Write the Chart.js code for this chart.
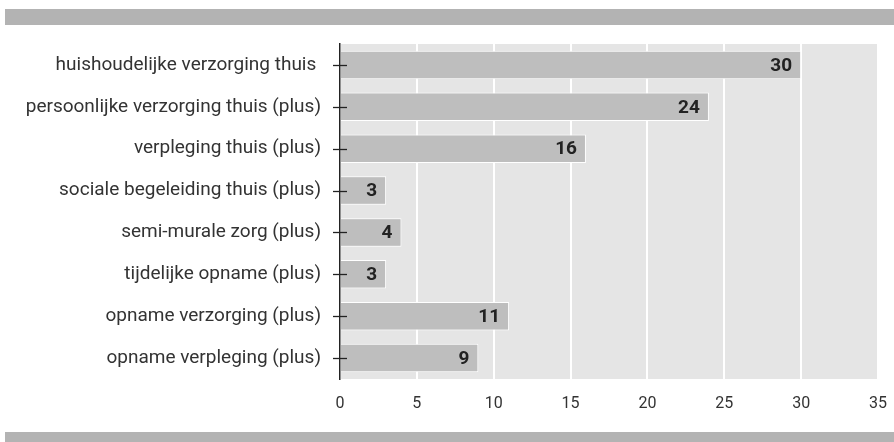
<!DOCTYPE html>
<html>
<head>
<meta charset="utf-8">
<script src="https://cdn.jsdelivr.net/npm/chart.js@4"></script>
<style>
  html, body { margin: 0; padding: 0; background: #fff; }
  .wrap { position: relative; width: 894px; height: 442px; }
  .band { position: absolute; left: 5px; right: 0; background: #b3b3b3; }
  .band.top { top: 9px; height: 16px; }
  .band.bottom { top: 432px; height: 10px; }
  canvas { position: absolute; left: 0; top: 0; }
</style>
</head>
<body>
<div class="wrap">
  <div class="band top"></div>
  <div class="band bottom"></div>
  <canvas id="zorgChart" width="894" height="442"></canvas>
</div>
<script>
const categories = [
  'huishoudelijke verzorging thuis ',
  'persoonlijke verzorging thuis (plus)',
  'verpleging thuis (plus)',
  'sociale begeleiding thuis (plus)',
  'semi-murale zorg (plus)',
  'tijdelijke opname (plus)',
  'opname verzorging (plus)',
  'opname verpleging (plus)'
];
const values = [30, 24, 16, 3, 4, 3, 11, 9];
const xTicks = [0, 5, 10, 15, 20, 25, 30, 35];

// grey plot background behind the bars
const plotBackground = {
  id: 'plotBackground',
  beforeDraw(chart) {
    const { ctx, chartArea: a } = chart;
    ctx.save();
    ctx.fillStyle = '#e5e5e5';
    ctx.fillRect(a.left, a.top, a.right - a.left, a.bottom - a.top);
    ctx.restore();
  }
};

// small tick marks crossing the category axis, plus value labels in the bars
const barExtras = {
  id: 'barExtras',
  afterDraw(chart) {
    const { ctx } = chart;
    const y = chart.scales.y;
    const x0 = chart.scales.x.getPixelForValue(0);
    ctx.save();
    ctx.strokeStyle = '#222';
    ctx.lineWidth = 1.3;
    categories.forEach((c, i) => {
      const py = Math.round(y.getPixelForValue(i)) + 0.5;
      ctx.beginPath();
      ctx.moveTo(x0 - 7, py);
      ctx.lineTo(x0 + 7, py);
      ctx.stroke();
    });
    ctx.fillStyle = '#222';
    ctx.font = 'bold 19px Roboto';
    ctx.textAlign = 'right';
    ctx.textBaseline = 'middle';
    chart.getDatasetMeta(0).data.forEach((bar, i) => {
      ctx.fillText(String(values[i]), bar.x - 9, bar.y + 1);
    });
    ctx.restore();
  }
};

new Chart(document.getElementById('zorgChart'), {
  type: 'bar',
  plugins: [plotBackground, barExtras],
  data: {
    labels: categories,
    datasets: [{
      data: values,
      backgroundColor: '#bebebe',
      borderColor: '#ffffff',
      borderWidth: 1,
      borderSkipped: 'start',
      categoryPercentage: 1,
      barPercentage: 0.68
    }]
  },
  options: {
    indexAxis: 'y',
    responsive: false,
    animation: false,
    layout: { padding: { left: 0, right: 16, top: 44, bottom: 0 } },
    plugins: {
      legend: { display: false },
      tooltip: { enabled: false }
    },
    scales: {
      x: {
        min: 0,
        max: 35,
        afterBuildTicks(scale) {
          scale.ticks = xTicks.map(v => ({ value: v }));
        },
        afterFit(scale) { scale.height = 63; },
        border: { display: false },
        grid: { color: '#ffffff', lineWidth: 2, tickLength: 8 },
        ticks: { color: '#333', font: { family: 'Roboto', size: 16 }, padding: 7 }
      },
      y: {
        z: 1,
        afterFit(scale) { scale.width = 340; },
        border: { display: true, color: '#222', width: 1.5 },
        grid: { display: false },
        ticks: { color: '#333', font: { family: 'Roboto', size: 19 }, padding: 11 }
      }
    }
  }
});
</script>
</body>
</html>
